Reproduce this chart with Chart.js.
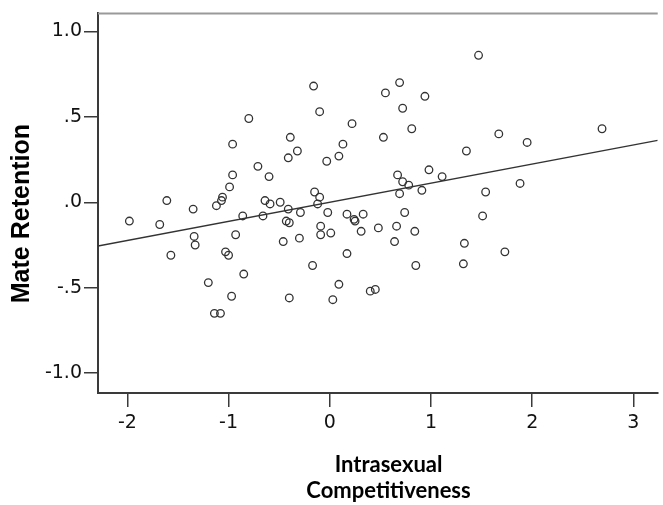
<!DOCTYPE html>
<html>
<head>
<meta charset="utf-8">
<script src="https://cdn.jsdelivr.net/npm/chart.js@4"></script>
<style>
    html, body { margin: 0; padding: 0; background: #fff; }
    #wrap { width: 663px; height: 505px; }
</style>
</head>
<body>
<div id="wrap"><canvas id="chart"></canvas></div>
<script>
// intrasexual competitiveness (x) vs mate retention (y)
const compX = [
    -0.16, -0.10, -0.80, 0.22, -0.39, -0.96, 0.13, -0.32, -0.41, 0.09,
    -0.03, -0.71, -0.96, -0.60, -0.99, -0.15, -0.10, -1.61, -1.06, -1.07,
    -1.12, -1.35, -0.64, -0.59, -0.49, -0.41, -0.29, -0.12, -0.02, 0.17,
    0.33, 0.24, -0.86, -0.66, -1.98, -0.43, -0.40, -1.68, -1.34, -1.33,
    -0.93, -1.57, -1.03, -1.00, -1.20, -0.85, -0.97, -1.14, -1.08, -0.46,
    -0.30, -0.09, -0.09, 0.01, -0.17, 0.17, 0.09, 0.03, -0.40, 0.25,
    0.31, 0.48, 0.40, 0.45, 1.47, 0.69, 0.55, 0.94, 0.72, 0.81,
    0.53, 2.69, 1.67, 1.95, 1.35, 0.67, 0.98, 1.11, 0.72, 0.78,
    0.91, 0.69, 1.88, 1.54, 0.74, 1.51, 0.66, 0.84, 0.64, 1.33,
    1.73, 0.85, 1.32
];
const retY = [
    0.68, 0.53, 0.49, 0.46, 0.38, 0.34, 0.34, 0.30, 0.26, 0.27,
    0.24, 0.21, 0.16, 0.15, 0.09, 0.06, 0.03, 0.01, 0.03, 0.01,
    -0.02, -0.04, 0.01, -0.01, 0.00, -0.04, -0.06, -0.01, -0.06, -0.07,
    -0.07, -0.10, -0.08, -0.08, -0.11, -0.11, -0.12, -0.13, -0.20, -0.25,
    -0.19, -0.31, -0.29, -0.31, -0.47, -0.42, -0.55, -0.65, -0.65, -0.23,
    -0.21, -0.14, -0.19, -0.18, -0.37, -0.30, -0.48, -0.57, -0.56, -0.11,
    -0.17, -0.15, -0.52, -0.51, 0.86, 0.70, 0.64, 0.62, 0.55, 0.43,
    0.38, 0.43, 0.40, 0.35, 0.30, 0.16, 0.19, 0.15, 0.12, 0.10,
    0.07, 0.05, 0.11, 0.06, -0.06, -0.08, -0.14, -0.17, -0.23, -0.24,
    -0.29, -0.37, -0.36
];

// fit line end points
const fitX = [-2.29, 3.24];
const fitY = [-0.256, 0.362];

const xTicks = [-2, -1, 0, 1, 2, 3];
const yTicks = [-1, -0.5, 0, 0.5, 1];
const yTickLabels = ['-1.0', '-.5', '.0', '.5', '1.0'];

const axisColor = '#3a3a3a';

const topFrame = {
    id: 'topFrame',
    afterDraw(chart) {
        const { ctx, chartArea } = chart;
        ctx.save();
        ctx.strokeStyle = '#999';
        ctx.lineWidth = 2;
        ctx.beginPath();
        ctx.moveTo(chartArea.left, chartArea.top);
        ctx.lineTo(chartArea.right, chartArea.top);
        ctx.stroke();
        ctx.restore();
    }
};

// eslint-disable-next-line no-undef
new Chart(document.getElementById('chart'), {
    type: 'scatter',
    data: {
        datasets: [
            {
                label: 'Mate Retention',
                data: compX.map((x, i) => ({ x, y: retY[i] })),
                pointRadius: 3.8,
                pointBorderWidth: 1.3,
                borderColor: '#333',
                backgroundColor: 'rgba(0,0,0,0)'
            },
            {
                type: 'line',
                label: 'Fit',
                data: fitX.map((x, i) => ({ x, y: fitY[i] })),
                borderColor: '#333',
                borderWidth: 1.3,
                pointRadius: 0,
                fill: false,
                tension: 0
            }
        ]
    },
    options: {
        responsive: true,
        maintainAspectRatio: false,
        animation: false,
        layout: { padding: { top: 11, right: 0, left: 0, bottom: 0 } },
        plugins: {
            legend: { display: false },
            tooltip: { enabled: false }
        },
        scales: {
            x: {
                type: 'linear',
                min: -2.29,
                max: 3.24,
                afterBuildTicks: (scale) => { scale.ticks = xTicks.map(v => ({ value: v })); },
                afterFit: (scale) => { scale.height = 112; },
                grid: { drawOnChartArea: false, drawTicks: true, tickLength: 14, color: axisColor, lineWidth: 1.5 },
                border: { display: true, color: axisColor, width: 2 },
                ticks: {
                    color: '#111',
                    padding: 5,
                    font: { family: '"DejaVu Sans", sans-serif', size: 19 }
                },
                title: {
                    display: true,
                    text: ['    Intrasexual', '    Competitiveness'],
                    color: '#000',
                    font: { family: 'Lato, "Open Sans", sans-serif', size: 22, weight: 'bold', lineHeight: '26px' },
                    padding: { top: 0, bottom: 1 }
                }
            },
            y: {
                type: 'linear',
                min: -1.116,
                max: 1.105,
                afterBuildTicks: (scale) => { scale.ticks = yTicks.map(v => ({ value: v })); },
                afterFit: (scale) => { scale.width = 98; },
                grid: { drawOnChartArea: false, drawTicks: true, tickLength: 14, color: axisColor, lineWidth: 1.5 },
                border: { display: true, color: axisColor, width: 2 },
                ticks: {
                    color: '#111',
                    padding: 2,
                    font: { family: '"DejaVu Sans", sans-serif', size: 19 },
                    callback: (value) => {
                        const i = yTicks.indexOf(value);
                        return i >= 0 ? yTickLabels[i] : '';
                    }
                },
                title: {
                    display: true,
                    text: 'Mate Retention   ',
                    color: '#000',
                    font: { family: '"Liberation Sans", Arial, sans-serif', size: 25, weight: 'bold' },
                    padding: { top: 7, bottom: 0 }
                }
            }
        }
    },
    plugins: [topFrame]
});
</script>
</body>
</html>
